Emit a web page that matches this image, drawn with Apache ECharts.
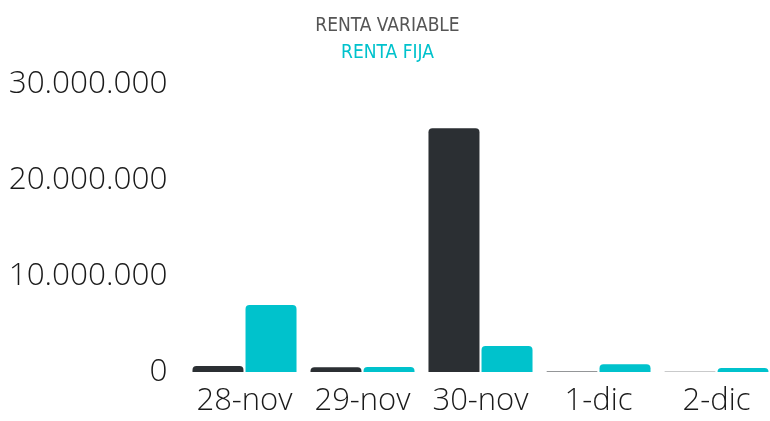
<!DOCTYPE html>
<html>
<head>
<meta charset="utf-8">
<script src="https://cdn.jsdelivr.net/npm/echarts@6/dist/echarts.min.js"></script>
<style>html,body{margin:0;padding:0;background:#fff}#c{width:770px;height:421px}</style>
</head>
<body>
<div id="c"></div>
<script>
const categories = ['28-nov', '29-nov', '30-nov', '1-dic', '2-dic'];
const rentaVariable = [630000, 490000, 25400000, 40000, 30000];
const rentaFija = [6980000, 520000, 2700000, 800000, 420000];
const yTicks = [0, 10000000, 20000000, 30000000];

const dark = '#2b2f33', cyan = '#00c2cc';
const chart = echarts.init(document.getElementById('c'), null, {renderer: 'canvas'});
const fmt = v => String(v).replace(/\B(?=(\d{3})+(?!\d))/g, '.');
const legendText = {fontFamily: "'DejaVu Sans Condensed', 'Liberation Sans Narrow', sans-serif", fontSize: 19};
chart.setOption({
  animation: false,
  legend: [
    {data: [{name: 'RENTA VARIABLE', textStyle: Object.assign({color: '#555555'}, legendText)}],
     left: 'center', top: 16, icon: 'none', itemWidth: 0, itemHeight: 20, selectedMode: false, padding: 0},
    {data: [{name: 'RENTA FIJA', textStyle: Object.assign({color: cyan}, legendText)}],
     left: 'center', top: 43.5, icon: 'none', itemWidth: 0, itemHeight: 20, selectedMode: false, padding: 0}
  ],
  grid: {left: 185.5, width: 590, top: 84, bottom: 49, containLabel: false, outerBoundsMode: 'none'},
  xAxis: {
    type: 'category', data: categories,
    axisLine: {show: false}, axisTick: {show: false},
    axisLabel: {color: '#1a1a1a', fontFamily: 'Open Sans', fontWeight: 300, fontSize: 31, margin: 14, interval: 0}
  },
  yAxis: {
    type: 'value', min: yTicks[0], max: yTicks[yTicks.length - 1], interval: 10000000,
    splitLine: {show: false}, axisLine: {show: false}, axisTick: {show: false},
    axisLabel: {color: '#1a1a1a', fontFamily: 'Open Sans', fontWeight: 300, fontSize: 31.5, margin: 18, formatter: fmt}
  },
  series: [
    {name: 'RENTA VARIABLE', type: 'bar', data: rentaVariable, barWidth: 51, barGap: '4%',
     itemStyle: {color: dark, borderRadius: [4, 4, 0, 0]}},
    {name: 'RENTA FIJA', type: 'bar', data: rentaFija, barWidth: 51,
     itemStyle: {color: cyan, borderRadius: [4, 4, 0, 0]}}
  ]
});
</script>
</body>
</html>
